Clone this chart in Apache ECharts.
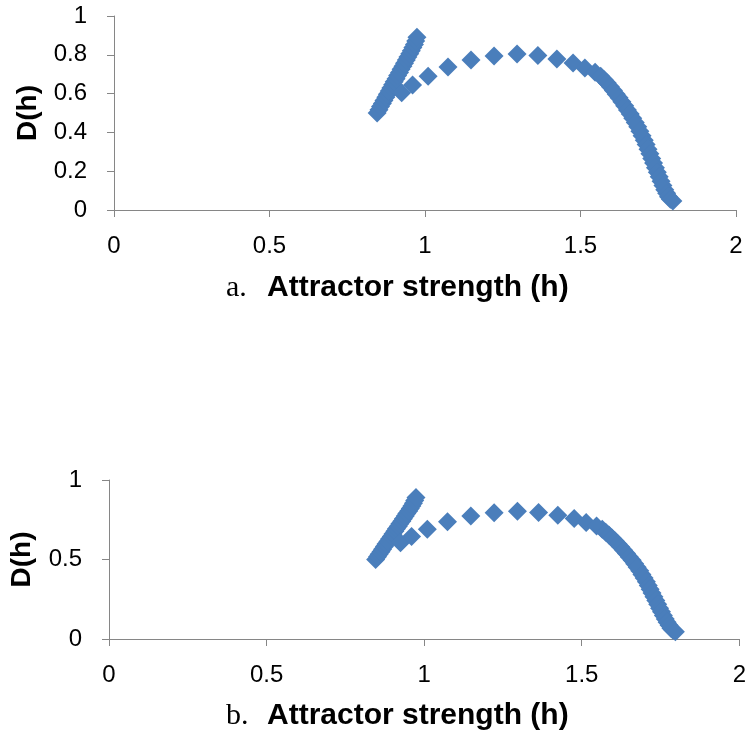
<!DOCTYPE html>
<html>
<head>
<meta charset="utf-8">
<script src="https://cdn.jsdelivr.net/npm/echarts@6/dist/echarts.min.js"></script>
<style>
  html, body { margin: 0; padding: 0; background: #fff; }
  #main { width: 749px; height: 736px; }
</style>
</head>
<body>
<div id="main"></div>
<script>
// attractor strength h and D(h) (same data in both panels)
var hValues = [
  0.846, 0.852, 0.857, 0.863, 0.868, 0.874, 0.879, 0.885, 0.890, 0.896,
  0.901, 0.907, 0.912, 0.918, 0.923, 0.929, 0.934, 0.940, 0.945, 0.951,
  0.956, 0.961, 0.966, 0.970, 0.974,
  0.925, 0.960, 1.010, 1.074, 1.148, 1.222, 1.296, 1.363, 1.424, 1.476,
  1.514, 1.547,
  1.565, 1.576, 1.586, 1.596, 1.606, 1.615, 1.624, 1.633, 1.642, 1.651,
  1.660, 1.668, 1.676, 1.684, 1.691, 1.698, 1.705, 1.711, 1.717, 1.723,
  1.729, 1.735, 1.741, 1.747, 1.753, 1.759, 1.765, 1.771, 1.777, 1.783,
  1.789, 1.797
];
var dValues = [
  0.500, 0.517, 0.533, 0.549, 0.565, 0.581, 0.597, 0.613, 0.629, 0.645,
  0.661, 0.677, 0.693, 0.709, 0.725, 0.741, 0.757, 0.773, 0.789, 0.805,
  0.821, 0.837, 0.853, 0.871, 0.890,
  0.605, 0.644, 0.690, 0.737, 0.773, 0.794, 0.804, 0.796, 0.778, 0.758,
  0.732, 0.710,
  0.690, 0.672, 0.654, 0.635, 0.616, 0.597, 0.578, 0.558, 0.537, 0.516,
  0.495, 0.473, 0.451, 0.429, 0.406, 0.383, 0.360, 0.337, 0.313, 0.290,
  0.266, 0.242, 0.218, 0.194, 0.171, 0.148, 0.126, 0.105, 0.086, 0.068,
  0.056, 0.046
];
var xTicks = [0, 0.5, 1, 1.5, 2];
var yStepTop = 0.2;
var yStepBottom = 0.5;

var points = hValues.map(function (h, i) { return [h, dValues[i]]; });

var axisColor = '#868686';
var labelFont = { fontFamily: 'Liberation Sans', fontSize: 24, color: '#000' };

function xAxisOpt(gridIndex) {
  return {
    type: 'value', gridIndex: gridIndex,
    min: xTicks[0], max: xTicks[xTicks.length - 1], interval: xTicks[1] - xTicks[0],
    axisLine: { lineStyle: { color: axisColor, width: 1 } },
    axisTick: { show: true, length: 7, lineStyle: { color: axisColor } },
    axisLabel: Object.assign({ margin: 24 }, labelFont),
    splitLine: { show: false }
  };
}
function yAxisOpt(gridIndex, step, gap) {
  return {
    type: 'value', gridIndex: gridIndex,
    min: 0, max: 1, interval: step,
    name: 'D(h)', nameLocation: 'middle', nameRotate: 90, nameGap: gap,
    nameMoveOverlap: false,
    nameTextStyle: { fontFamily: 'Liberation Sans', fontWeight: 'bold', fontSize: 28, color: '#000' },
    axisLine: { show: true, lineStyle: { color: axisColor, width: 1 } },
    axisTick: { show: true, length: 7, lineStyle: { color: axisColor } },
    axisLabel: Object.assign({ margin: 27 }, labelFont),
    splitLine: { show: false }
  };
}
function titleOpt(letter, top) {
  return {
    text: '{a|' + letter + '.}{t|Attractor strength (h)}',
    left: 226, top: top, padding: 0,
    textStyle: {
      rich: {
        a: { fontFamily: 'Liberation Serif', fontWeight: 'normal', fontSize: 30, color: '#000', width: 41 },
        t: { fontFamily: 'Liberation Sans', fontWeight: 'bold', fontSize: 30, color: '#000' }
      }
    }
  };
}

var chart = echarts.init(document.getElementById('main'));
var option = {
  animation: false,
  title: [titleOpt('a', 273), titleOpt('b', 701)],
  grid: [
    { left: 114, right: 13, top: 16, bottom: 526 },
    { left: 107, right: 6, top: 480, bottom: 97 }
  ],
  xAxis: [xAxisOpt(0), xAxisOpt(1)],
  yAxis: [yAxisOpt(0, yStepTop, 72), yAxisOpt(1, yStepBottom, 73)],
  series: [0, 1].map(function (i) {
    return {
      type: 'scatter', xAxisIndex: i, yAxisIndex: i,
      symbol: 'diamond', symbolSize: 19,
      itemStyle: { color: '#4A7EBB', opacity: 1 },
      data: points
    };
  })
};
chart.setOption(option);
</script>
</body>
</html>
